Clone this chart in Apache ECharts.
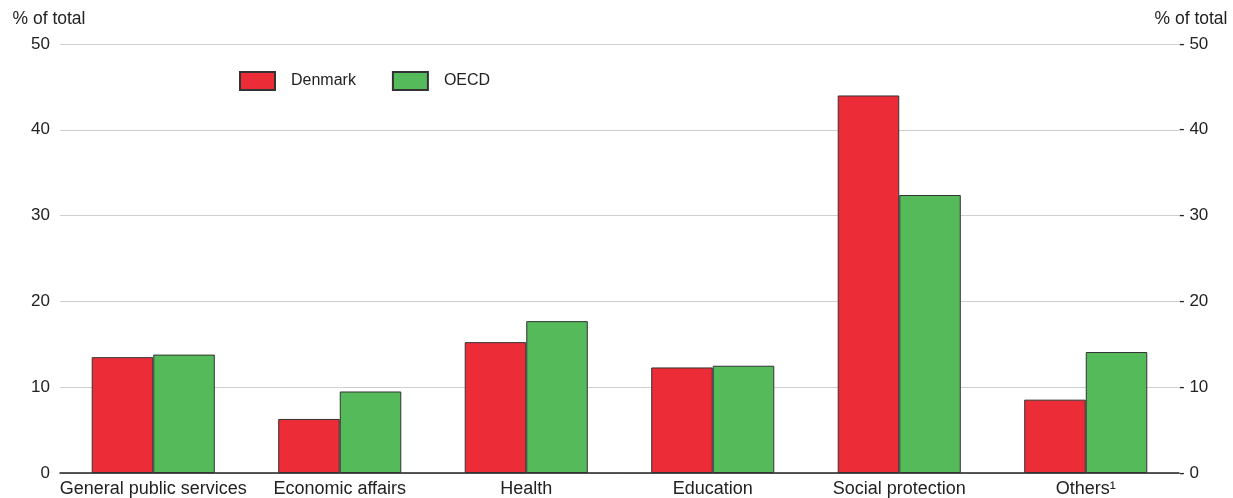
<!DOCTYPE html>
<html>
<head>
<meta charset="utf-8">
<script src="https://cdn.jsdelivr.net/npm/echarts@6/dist/echarts.min.js"></script>
<style>
  html, body { margin: 0; padding: 0; background: #fff; }
  #chart { width: 1233px; height: 498px; }
</style>
</head>
<body>
<div id="chart"></div>
<script>
// Spending by function, % of total
const categories = ['General public services', 'Economic affairs', 'Health', 'Education', 'Social protection', 'Others¹'];
const denmark = [13.5, 6.3, 15.25, 12.3, 44.0, 8.55];
const oecd = [13.8, 9.5, 17.7, 12.5, 32.4, 14.1];
const yTicks = [0, 10, 20, 30, 40, 50];

const FONT = '"Liberation Sans", Arial, sans-serif';
const TEXT = '#222';

const chart = echarts.init(document.getElementById('chart'), null, { renderer: 'canvas' });

const valueAxisBase = {
  type: 'value',
  min: yTicks[0],
  max: yTicks[yTicks.length - 1],
  interval: yTicks[1] - yTicks[0],
  axisLine: { show: false },
  axisTick: { show: false },
  nameLocation: 'end',
  nameGap: 16
};

chart.setOption({
  animation: false,
  textStyle: { fontFamily: FONT },
  grid: { left: 60, right: 54, top: 44, bottom: 25, containLabel: false },
  legend: {
    data: ['Denmark', 'OECD'],
    left: 239,
    top: 71,
    padding: 0,
    itemWidth: 35,
    itemHeight: 18,
    itemGap: 36,
    icon: 'rect',
    textStyle: { fontFamily: FONT, fontSize: 16, color: TEXT, padding: [0, 0, 0, 11] }
  },
  xAxis: {
    type: 'category',
    data: categories,
    axisLine: { show: true, lineStyle: { color: '#222', width: 1.5 } },
    axisTick: { show: false },
    axisLabel: { fontFamily: FONT, fontSize: 18, color: TEXT, margin: 7, interval: 0 }
  },
  yAxis: [
    Object.assign({}, valueAxisBase, {
      position: 'left',
      name: '% of total',
      nameTextStyle: { fontFamily: FONT, fontSize: 17.5, color: TEXT, align: 'center', padding: [0, 22, 0, 0] },
      axisLabel: { fontFamily: FONT, fontSize: 17, color: TEXT, margin: 10 },
      splitLine: { show: true, lineStyle: { color: '#cfcfcf', width: 1 } }
    }),
    Object.assign({}, valueAxisBase, {
      position: 'right',
      name: '% of total',
      nameTextStyle: { fontFamily: FONT, fontSize: 17.5, color: TEXT, align: 'center', padding: [0, 0, 0, 24] },
      axisLabel: { fontFamily: FONT, fontSize: 17, color: TEXT, margin: 0, formatter: v => '- ' + v },
      splitLine: { show: false }
    })
  ],
  series: [
    {
      name: 'Denmark',
      type: 'bar',
      data: denmark,
      barGap: '0%',
      barCategoryGap: '34%',
      itemStyle: { color: '#EC2D38', borderColor: '#333', borderWidth: 1 }
    },
    {
      name: 'OECD',
      type: 'bar',
      data: oecd,
      itemStyle: { color: '#55BA5A', borderColor: '#333', borderWidth: 1 }
    }
  ]
});
</script>
</body>
</html>
